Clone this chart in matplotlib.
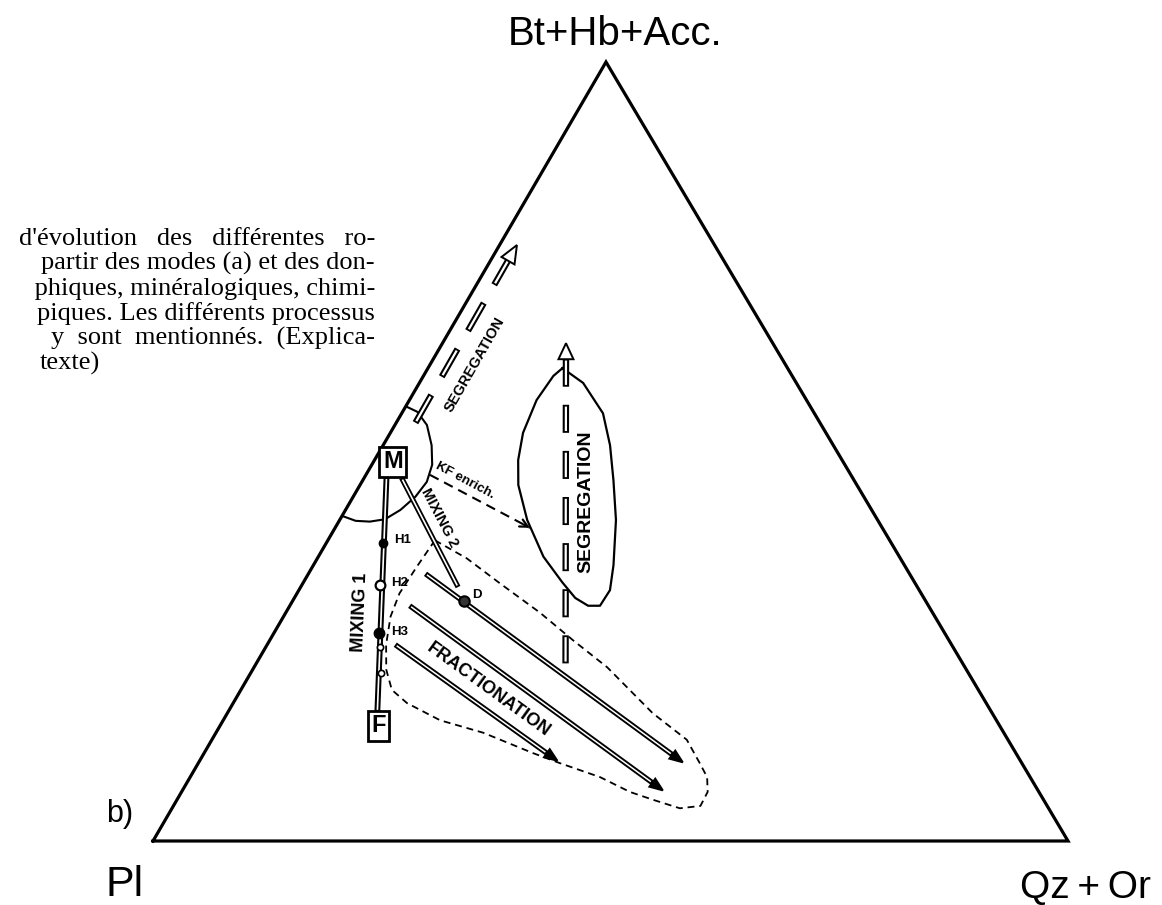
import numpy as np
import matplotlib
matplotlib.use("Agg")
import matplotlib.pyplot as plt
from matplotlib.patches import Polygon, Rectangle

plt.rcParams["lines.scale_dashes"] = False
SANS = ["Liberation Sans", "DejaVu Sans"]
SERIF = "Liberation Serif"

# ---- data: compositions in % (Qz+Or, Bt+Hb+Acc.), Pl = 100 - both
pt_M = (2.1, 48.7)
pt_F = (17.3, 14.8)
pt_D = (18.7, 30.8)
pt_H1 = (6.2, 38.3)
pt_H2 = (8.5, 32.9)
pt_H3 = (11.5, 26.7)
pts_small = [(12.5, 24.9), (14.2, 21.6)]

mixing1 = [(2.4, 46.7), (16.3, 16.6)]
mixing2 = [(4.1, 46.6), (17.2, 32.6)]
fraction_arrows = [
    [(12.8, 34.3), (52.9, 10.1)],
    [(13.1, 30.2), (52.5, 6.5)],
    [(14.0, 25.2), (39.1, 10.3)],
]
kf_arrow = [(7.0, 47.0), (21.3, 40.2)]
segreg_left = [(2.1, 53.7), (1.9, 76.5)]
segreg_right = [(33.8, 22.8), (13.5, 63.9)]

# contour autour de M
arc_M_qz = [0.1, 1.8, 3.4, 4.9, 6.0, 6.8, 7.1, 6.6, 5.3, 3.5, 1.6, 0.0]
arc_M_bt = [41.7, 41.1, 41.0, 41.3, 42.5, 44.2, 46.1, 48.3, 50.8, 53.4, 55.1, 55.8]

# domaine de segregation (droite)
segr_qz = [14.7, 17.9, 22.0, 24.8, 27.4, 30.2, 32.8, 34.0, 33.9, 32.6, 30.7, 28.3,
           24.6, 20.5, 17.3, 15.7, 14.5, 13.9, 14.2]
segr_bt = [60.7, 58.8, 54.9, 50.8, 46.3, 41.2, 35.4, 32.2, 30.2, 30.2, 31.2, 33.2,
           36.5, 41.2, 45.7, 48.9, 52.4, 56.6, 59.7]

# enveloppe de fractionnement (tirets)
frac_qz = [11.7, 16.3, 21.5, 27.8, 33.1, 38.6, 46.5, 51.9, 54.8, 56.5, 57.5, 57.6,
           55.5, 52.0, 49.0, 44.8, 39.5, 35.9, 29.2, 23.7, 19.0, 16.5, 14.6, 13.0,
           11.7, 11.2, 11.4]
frac_bt = [38.6, 36.3, 33.1, 29.3, 25.8, 22.3, 16.4, 13.0, 10.0, 8.2, 6.3, 4.5,
           4.2, 5.3, 6.3, 8.2, 10.0, 11.3, 13.9, 15.5, 17.7, 19.4, 22.0, 25.2,
           28.8, 31.8, 35.2]

caption = [
    "d'évolution   des   différentes   ro-",
    "partir des modes (a) et des don-",
    "aphiques, minéralogiques, chimi-",
    "piques. Les différents processus",
    "y  sont  mentionnés.  (Explica-",
    "texte)",
]

# ---- page layout: triangle corners in pixels
PL_XY = (153, 841)
QZ_XY = (1068, 841)
BT_XY = (606, 62)


def tern(qz, bt):
    qz = np.asarray(qz, float) / 100
    bt = np.asarray(bt, float) / 100
    x = PL_XY[0] + qz * (QZ_XY[0] - PL_XY[0]) + bt * (BT_XY[0] - PL_XY[0])
    y = PL_XY[1] + bt * (BT_XY[1] - PL_XY[1])
    return x, y


fig = plt.figure(figsize=(11.62, 9.05), dpi=100)
ax = fig.add_axes([0, 0, 1, 1])
ax.set_xlim(0, 1162)
ax.set_ylim(905, 0)
ax.axis("off")


def hollow_bar(p, q, lw_out=3.6, lw_in=1.1, head=None, dashes=None, z=3):
    x, y = tern([p[0], q[0]], [p[1], q[1]])
    dx, dy = x[1] - x[0], y[1] - y[0]
    n = np.hypot(dx, dy)
    ux, uy = dx / n, dy / n
    x1, y1 = x[1], y[1]
    if head is not None:
        hl, hw, fc = head
        x1, y1 = x[1] - ux * hl, y[1] - uy * hl
    if dashes is None:
        ax.plot([x[0], x1], [y[0], y1], color="black", lw=lw_out,
                solid_capstyle="butt", zorder=z)
        e = 1.8
        ax.plot([x[0] + ux * e, x1 - ux * e], [y[0] + uy * e, y1 - uy * e],
                color="white", lw=lw_in, solid_capstyle="butt", zorder=z + 0.1)
    else:
        d, g = dashes
        ax.plot([x[0], x1], [y[0], y1], color="black", lw=lw_out,
                linestyle=(0, (d, g)), zorder=z)
        e = 1.3
        ax.plot([x[0], x1], [y[0], y1], color="white", lw=lw_in,
                linestyle=(d + g - e, (d - 2 * e, g + 2 * e)), zorder=z + 0.1)
    if head is not None:
        px_, py_ = -uy, ux
        tri = [(x[1], y[1]),
               (x1 + px_ * hw / 2, y1 + py_ * hw / 2),
               (x1 - px_ * hw / 2, y1 - py_ * hw / 2)]
        ax.add_patch(Polygon(tri, closed=True, fc=fc, ec="black", lw=1.4,
                             zorder=z + 0.2))


# triangle
tx, ty = tern([0, 100, 0, 0], [0, 0, 100, 0])
ax.plot(tx, ty, color="black", lw=2.3, solid_joinstyle="miter", zorder=2)

# contours
ax.plot(*tern(arc_M_qz, arc_M_bt), color="black", lw=1.5, zorder=2)
ax.plot(*tern(segr_qz + segr_qz[:1], segr_bt + segr_bt[:1]), color="black", lw=1.6, zorder=2)
ax.plot(*tern(frac_qz + frac_qz[:1], frac_bt + frac_bt[:1]), color="black", lw=1.3,
        linestyle=(0, (5, 3.5)), zorder=2)

# mixing lines
hollow_bar(*mixing1, lw_out=4.2, lw_in=1.2)
hollow_bar(*mixing2, lw_out=3.8, lw_in=1.2)

# fractionation arrows
for a, b in fraction_arrows:
    hollow_bar(a, b, lw_out=3.8, lw_in=1.1, head=(13, 10, "black"))

# segregation arrows
hollow_bar(*segreg_left, lw_out=4.6, lw_in=1.6, head=(18, 15, "white"), dashes=(23.0, 15.1))
hollow_bar(*segreg_right, lw_out=4.6, lw_in=1.6, head=(16, 15, "white"), dashes=(20.2, 13.0))

# KF enrichment
kx, ky = tern(*zip(*kf_arrow))
ax.plot(kx, ky, color="black", lw=1.5, linestyle=(0, (7, 4.5)), zorder=3)
ax.annotate("", xy=(kx[1], ky[1]),
            xytext=(kx[1] - 0.06 * (kx[1] - kx[0]), ky[1] - 0.06 * (ky[1] - ky[0])),
            arrowprops=dict(arrowstyle="->", lw=1.6, color="black", mutation_scale=14,
                            shrinkA=0, shrinkB=0), zorder=3)

# points
ax.plot(*tern(*pt_H1), "o", ms=6, mfc="black", mec="black", zorder=5)
ax.plot(*tern(*pt_H2), "o", ms=7, mfc="white", mec="black", mew=1.6, zorder=5)
ax.plot(*tern(*pt_H3), "o", ms=7.5, mfc="black", mec="black", zorder=5)
for p in pts_small:
    ax.plot(*tern(*p), "o", ms=4.5, mfc="white", mec="black", mew=1.2, zorder=5)
ax.plot(*tern(*pt_D), "o", ms=7.5, mfc="#333333", mec="black", mew=1.5, zorder=5)

# end members M and F
for p, s in [(pt_M, "M"), (pt_F, "F")]:
    ax.text(*tern(*p), s, ha="center", va="center", fontsize=17, fontweight="bold",
            family=SANS, zorder=6,
            bbox=dict(boxstyle="square,pad=0.15", fc="white", ec="black", lw=2))

# labels inside the diagram
lab = dict(family=SANS, fontweight="bold", ha="center", va="center",
           rotation_mode="anchor", zorder=7)
ax.text(*tern(8.2, 38.6), "H1", fontsize=9.5, **lab)
ax.text(*tern(10.6, 33.1), "H2", fontsize=9.5, **lab)
ax.text(*tern(13.7, 26.8), "H3", fontsize=9.5, **lab)
ax.text(*tern(19.8, 31.6), "D", fontsize=9.5, **lab)
ax.text(*tern(8.1, 29.4), "MIXING 1", fontsize=13, rotation=87.6, **lab)
ax.text(*tern(10.8, 41.5), "MIXING 2", fontsize=10.5, rotation=-62.4, **lab)
ax.text(*tern(11.2, 46.3), "KF enrich.", fontsize=9.5, rotation=-28, **lab)
ax.text(*tern(27.0, 19.4), "FRACTIONATION", fontsize=13, rotation=-36, **lab)
ax.text(*tern(4.9, 61.1), "SEGREGATION", fontsize=10.5, rotation=60.2, **lab)
ax.text(*tern(25.8, 43.5), "SEGREGATION", fontsize=14, rotation=90, **lab)

# apex labels
ax.text(615, 45, "Bt+Hb+Acc.", fontsize=29, family=SANS, ha="center", va="baseline")
ax.text(125, 896, "Pl", fontsize=31, family=SANS, ha="center", va="baseline")
ax.text(1086, 898, "Qz\u2009+\u2009Or", fontsize=28, family=SANS, ha="center", va="baseline")
ax.text(120, 822, "b)", fontsize=22, family=SANS, ha="center", va="baseline")

# caption fragment (cropped page)
base_y = [245, 270, 295, 320, 345, 370]
for i, (line, y) in enumerate(zip(caption, base_y)):
    if i < len(caption) - 1:
        ax.text(375, y, line, fontsize=19, family=SERIF, ha="right", va="baseline", zorder=1)
    else:
        ax.text(40, y, line, fontsize=19, family=SERIF, ha="left", va="baseline", zorder=1)
# the page is cut on the left below the first caption line
ax.add_patch(Rectangle((0, 250), 35, 130, fc="white", ec="none", zorder=1.5))

fig.savefig("out.png", dpi=100)
